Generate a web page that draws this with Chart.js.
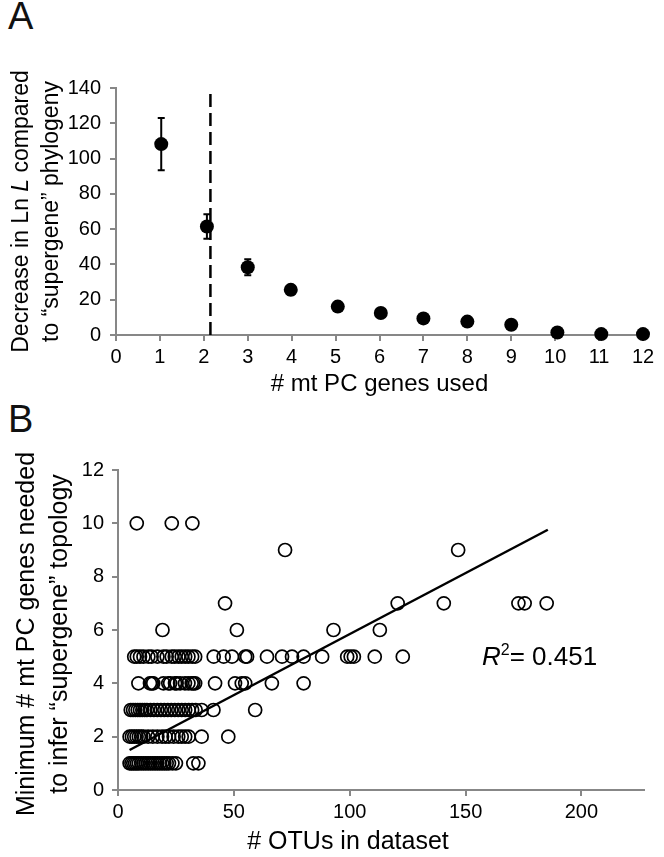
<!DOCTYPE html>
<html>
<head>
<meta charset="utf-8">
<script src="https://cdn.jsdelivr.net/npm/chart.js@4.4.0/dist/chart.umd.min.js"></script>
<style>
  body { margin: 0; background: #fff; width: 664px; height: 857px; position: relative; overflow: hidden; font-family: "Liberation Sans", Arial, sans-serif; }
  .wrap { position: absolute; left: 0; width: 664px; }
  .panel { position: absolute; left: 8px; font-size: 38px; line-height: 1; color: #111; }
</style>
</head>
<body>
<div class="panel" style="top:-3px">A</div>
<div class="panel" style="top:400px">B</div>
<div class="wrap" style="top:0;height:400px"><canvas id="chartA" width="664" height="400"></canvas></div>
<div class="wrap" style="top:400px;height:457px"><canvas id="chartB" width="664" height="457"></canvas></div>
<script>
// ---- panel A data ----
const genesUsed   = [1.03, 2.07, 3, 3.98, 5.05, 6.03, 7, 8, 9, 10.05, 11.05, 12];
const lnLDecrease = [108.2, 61.5, 38.4, 25.6, 16.1, 12.5, 9.4, 7.6, 5.8, 1.4, 0.5, 0.5];
const lnLError    = [14.8, 7, 4.6, 2.8, 1.5, 1.2, 1, 1, 0.8, 0.5, 0.3, 0.3];
const cutoffGenes = 2.15;
const xTicksA = [0, 12, 1];
const yTicksA = [0, 140, 20];

// ---- panel B data (OTUs per dataset, grouped by min # genes needed) ----
const geneLevels = [1, 2, 3, 4, 5, 6, 7, 9, 10];
const otusLevel1 = [5, 5.8, 6.6, 7.4, 8.2, 9, 10, 11, 12, 13, 14, 15, 16, 17, 18, 19, 20, 21, 22, 23.5, 25, 32.5, 34.7];
const otusLevel2 = [5, 6, 7, 8, 9, 10, 11, 13, 15, 17, 19, 20.5, 22, 24, 26, 27.5, 29, 30.5, 36.1, 47.6];
const otusLevel3 = [5.5, 6.5, 7.5, 8.5, 9.5, 10.5, 11.5, 12.5, 14, 15.5, 17, 18.5, 20, 21.5, 23, 24.5, 26, 27.5, 29, 30.5, 32, 33.5, 36.1, 41.2, 59.2];
const otusLevel4 = [8.8, 13.8, 14.6, 15.2, 19.6, 21.7, 22.5, 24.6, 25.3, 26.8, 28.9, 30.4, 31.8, 32.5, 33.3, 41.9, 50.5, 53.4, 54.9, 66.4, 80.1];
const otusLevel5 = [7, 8.1, 9.5, 11, 13.1, 14.5, 17, 19.6, 21, 23.2, 24.5, 26.1, 27.5, 29, 30.4, 32, 33.3, 41.3, 45.6, 49.2, 54.9, 55.7, 64.3, 70.8, 75.1, 80.1, 88.1, 98.9, 100.4, 101.8, 110.8, 122.9];
const otusLevel6 = [19.2, 51.3, 93, 113];
const otusLevel7 = [46.2, 120.7, 140.6, 172.8, 175.5, 185];
const otusLevel9 = [72.1, 146.8];
const otusLevel10 = [8.1, 23.2, 32.1];
const trendX = [5, 185.5];
const trendY = [1.5, 9.76];
const rSquared = '0.451';
const xTicksB = [0, 227, 50];
const yTicksB = [0, 12, 2];

const FONT = '"Liberation Sans", Arial, sans-serif';
const AXIS = '#878787';

function linScale(range, fitFn, pad, extra) {
  return Object.assign({
    type: 'linear',
    min: range[0],
    max: range[1],
    ticks: { stepSize: range[2], color: '#000', font: { family: FONT, size: 20 }, padding: pad, maxRotation: 0, autoSkip: false },
    grid: { drawOnChartArea: false, color: AXIS, tickLength: 6, lineWidth: 2 },
    border: { color: AXIS, width: 2 },
    afterFit: fitFn
  }, extra || {});
}

function rotatedText(ctx, x, cy, parts, size) {
  // parts: [[text, italic], ...]
  ctx.save();
  ctx.translate(x, cy);
  ctx.rotate(-Math.PI / 2);
  ctx.textBaseline = 'middle';
  ctx.textAlign = 'left';
  let total = 0;
  parts.forEach(p => { ctx.font = (p[1] ? 'italic ' : '') + size + 'px ' + FONT; total += ctx.measureText(p[0]).width; });
  let pos = -total / 2;
  parts.forEach(p => {
    ctx.font = (p[1] ? 'italic ' : '') + size + 'px ' + FONT;
    ctx.fillText(p[0], pos, 0);
    pos += ctx.measureText(p[0]).width;
  });
  ctx.restore();
}

// ---- chart A ----
const pointsA = genesUsed.map((g, i) => ({ x: g, y: lnLDecrease[i] }));

const extrasA = {
  id: 'extrasA',
  beforeDatasetsDraw(chart) {
    const { ctx, scales: { x, y } } = chart;
    ctx.save();
    ctx.strokeStyle = '#000';
    ctx.lineWidth = 2;
    genesUsed.forEach((g, i) => {
      const px = x.getPixelForValue(g);
      const top = y.getPixelForValue(lnLDecrease[i] + lnLError[i]);
      const bot = y.getPixelForValue(lnLDecrease[i] - lnLError[i]);
      ctx.beginPath();
      ctx.moveTo(px, top); ctx.lineTo(px, bot);
      ctx.moveTo(px - 3.5, top); ctx.lineTo(px + 3.5, top);
      ctx.moveTo(px - 3.5, bot); ctx.lineTo(px + 3.5, bot);
      ctx.stroke();
    });
    ctx.restore();
  },
  afterDraw(chart) {
    const { ctx, chartArea } = chart;
    ctx.save();
    ctx.fillStyle = '#000';
    const cy = (chartArea.top + chartArea.bottom) / 2;
    rotatedText(ctx, 22, cy, [['Decrease in Ln ', false], ['L', true], [' compared', false]], 23);
    rotatedText(ctx, 52, cy, [['to \u201csupergene\u201d phylogeny', false]], 23);
    ctx.font = '24px ' + FONT;
    ctx.textAlign = 'center';
    ctx.textBaseline = 'middle';
    ctx.fillText('# mt PC genes used', (chartArea.left + chartArea.right) / 2, 384);
    ctx.restore();
  }
};

new Chart(document.getElementById('chartA'), {
  type: 'scatter',
  data: {
    datasets: [
      {
        data: pointsA,
        pointRadius: 7,
        pointBackgroundColor: '#000',
        pointBorderWidth: 0,
        clip: false,
        order: 1
      },
      {
        type: 'line',
        data: [{ x: cutoffGenes, y: yTicksA[0] }, { x: cutoffGenes, y: yTicksA[1] }],
        borderColor: '#000',
        borderWidth: 2.5,
        borderDash: [13, 6],
        pointRadius: 0,
        clip: false,
        order: 2
      }
    ]
  },
  options: {
    responsive: false,
    animation: false,
    layout: { padding: { top: 88, right: 21, left: 0, bottom: 0 } },
    plugins: { legend: { display: false }, tooltip: { enabled: false } },
    scales: {
      x: linScale(xTicksA, s => { s.height = 65; }, 4),
      y: linScale(yTicksA, s => { s.width = 116; }, 9)
    }
  },
  plugins: [extrasA]
});

// ---- chart B ----
const otusByLevel = [otusLevel1, otusLevel2, otusLevel3, otusLevel4, otusLevel5, otusLevel6, otusLevel7, otusLevel9, otusLevel10];
const pointsB = [];
geneLevels.forEach((lvl, i) => otusByLevel[i].forEach(o => pointsB.push({ x: o, y: lvl })));

const extrasB = {
  id: 'extrasB',
  afterDraw(chart) {
    const { ctx, chartArea } = chart;
    ctx.save();
    ctx.fillStyle = '#000';
    const cy = (chartArea.top + chartArea.bottom) / 2 + 4;
    rotatedText(ctx, 27, cy, [['Minimum # mt PC genes needed', false]], 25);
    rotatedText(ctx, 60, cy, [['to infer \u201csupergene\u201d topology', false]], 25);
    ctx.font = '25px ' + FONT;
    ctx.textAlign = 'center';
    ctx.textBaseline = 'middle';
    ctx.fillText('# OTUs in dataset', 348, 442);
    // R squared label
    ctx.textAlign = 'left';
    ctx.textBaseline = 'alphabetic';
    let x = 482;
    const base = 265;
    ctx.font = 'italic 26px ' + FONT;
    ctx.fillText('R', x, base);
    x += ctx.measureText('R').width;
    ctx.font = '16px ' + FONT;
    ctx.fillText('2', x, base - 10);
    x += ctx.measureText('2').width;
    ctx.font = '26px ' + FONT;
    ctx.fillText('= ' + rSquared, x, base);
    ctx.restore();
  }
};

new Chart(document.getElementById('chartB'), {
  type: 'scatter',
  data: {
    datasets: [
      {
        data: pointsB,
        pointRadius: 6.5,
        pointBorderWidth: 1.7,
        pointBorderColor: '#000',
        pointBackgroundColor: 'rgba(255,255,255,0)',
        clip: false,
        order: 2
      },
      {
        type: 'line',
        data: trendX.map((t, i) => ({ x: t, y: trendY[i] })),
        borderColor: '#000',
        borderWidth: 2.5,
        pointRadius: 0,
        order: 1
      }
    ]
  },
  options: {
    responsive: false,
    animation: false,
    layout: { padding: { top: 70, right: 20, left: 0, bottom: 0 } },
    plugins: { legend: { display: false }, tooltip: { enabled: false } },
    scales: {
      x: linScale(xTicksB, s => { s.height = 67; }, 4, {
        afterBuildTicks: s => { s.ticks = s.ticks.filter(t => t.value % 50 === 0); }
      }),
      y: linScale(yTicksB, s => { s.width = 118; }, 8)
    }
  },
  plugins: [extrasB]
});
</script>
</body>
</html>
